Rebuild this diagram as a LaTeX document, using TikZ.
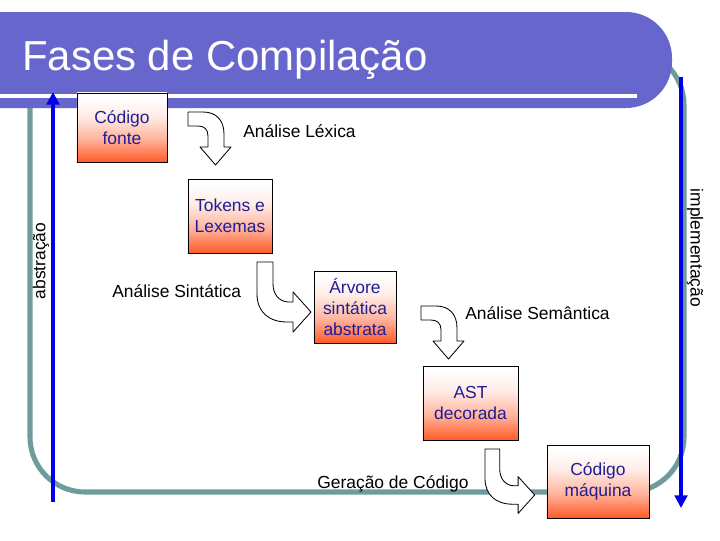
\documentclass[tikz,border=0pt]{standalone}
\usepackage{fontspec}
\setmainfont{Liberation Sans}
\usetikzlibrary{arrows.meta}
\definecolor{bandPurple}{HTML}{6666CC}
\definecolor{loopTeal}{HTML}{6E9B9B}
\definecolor{axisBlue}{HTML}{0000E6}
\definecolor{boxOrange}{HTML}{FF5A28}
\definecolor{boxText}{HTML}{1E1E96}
\pgfdeclareverticalshading{boxfade}{100bp}{color(0bp)=(boxOrange); color(25bp)=(boxOrange); color(42bp)=(boxOrange!45!white); color(58bp)=(boxOrange!12!white); color(72bp)=(white); color(100bp)=(white)}
\tikzset{
  phasebox/.style={draw=black, line width=0.6pt, shading=boxfade, text=boxText, align=center, inner sep=0pt, font=\fontsize{12.4}{15}\selectfont},
  phaselabel/.style={anchor=west, inner sep=0pt, font=\fontsize{12.4}{15}\selectfont},
  blockarrow/.style={draw=black, fill=white, line width=0.6pt, line join=round},
  axis/.style={axisBlue, line width=3.5pt, -{Triangle[length=9pt,width=9pt]}},
  bentdown/.pic={
    \draw[blockarrow] (0,0) -- (15,0) .. controls (28,0) and (36,8) .. (36,22) -- (36,35) -- (43,35) -- (27.5,53) -- (12,35) -- (20,35) -- (20,24) .. controls (20,17) and (16,14) .. (10,14) -- (0,14) -- cycle;
  },
  bentright/.pic={
    \draw[blockarrow] (0,0) -- (16,0) -- (16,22) .. controls (16,32) and (22,40) .. (32,40) -- (36,40) -- (36,30) -- (54,50) -- (36,70) -- (36,60) -- (30,60) .. controls (12,60) and (0,50) .. (0,32) -- cycle;
  }
}
\begin{document}
\begin{tikzpicture}[x=0.025cm, y=-0.025cm]
  \useasboundingbox (0,0) rectangle (720,540);
  % loop behind everything
  \draw[loopTeal, line width=3.6pt, rounded corners=1.375cm] (30,50) rectangle (684,492);
  % title band
  \fill[bandPurple, rounded corners=1.15cm] (-60,12) rectangle (672,108);
  \draw[white, line width=2.2pt] (0,96) -- (637,96);
  \node[anchor=base west, inner sep=0pt, text=white, font=\fontsize{29.8}{34}\selectfont] (title) at (22,70) {Fases de Compilação};
  % axes
  \coordinate (absbot) at (53,502);
  \coordinate (abstop) at (53,92);
  \coordinate (impltop) at (681,77);
  \coordinate (implbot) at (681,508);
  \draw[axis] (absbot) -- (abstop);
  \draw[axis] (impltop) -- (implbot);
  \node[phaselabel, anchor=center, rotate=90] (abs) at (41,261) {abstração};
  \node[phaselabel, anchor=center, rotate=-90] (impl) at (695,248) {implementação};
  % phases
  \node[phasebox, minimum width=2.25cm, minimum height=1.725cm] (src) at (122,127.5) {Código\\fonte};
  \node[phasebox, minimum width=2.1cm, minimum height=1.85cm] (tok) at (230,216) {Tokens e\\Lexemas};
  \node[phasebox, minimum width=2.05cm, minimum height=1.8cm] (tree) at (355,307) {Árvore\\sintática\\abstrata};
  \node[phasebox, minimum width=2.375cm, minimum height=1.85cm] (astdec) at (470.5,403) {AST\\decorada};
  \node[phasebox, minimum width=2.55cm, minimum height=1.825cm] (mach) at (598,481.5) {Código\\máquina};
  \pic at (188,112) {bentdown};
  \pic at (257,262) {bentright};
  \pic at (421,306) {bentdown};
  \pic[scale=0.92] at (485,449) {bentright};
  \node[phaselabel] (lex) at (243,131) {Análise Léxica};
  \node[phaselabel] (syn) at (112,291) {Análise Sintática};
  \node[phaselabel] (sem) at (465,313) {Análise Semântica};
  \node[phaselabel] (gen) at (317,484) {Geração de Código};
\end{tikzpicture}
\end{document}
